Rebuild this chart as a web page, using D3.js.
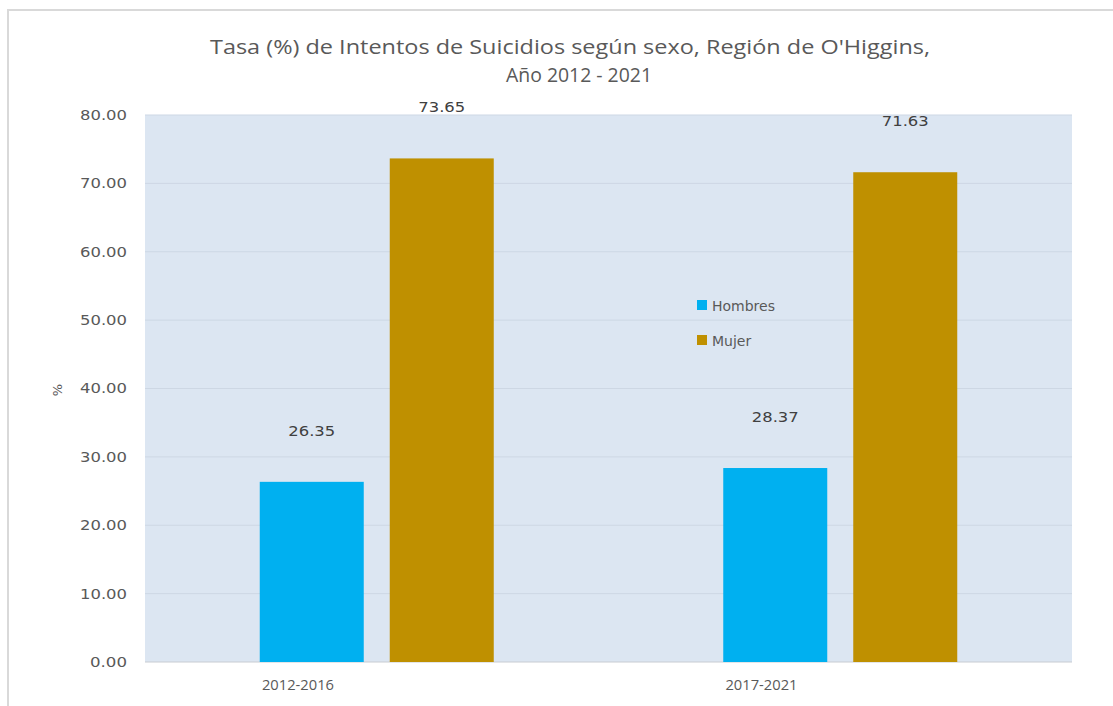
<!DOCTYPE html>
<html>
<head>
<meta charset="utf-8">
<script src="https://cdn.jsdelivr.net/npm/d3@7"></script>
<style>
  body { margin: 0; background: #fff; }
  text { fill: #595959; }
</style>
</head>
<body>
<script>
// chart data
const periods = ['2012-2016', '2017-2021'];
const seriesNames = ['Hombres', 'Mujer'];
const hombres = [26.35, 28.37];
const mujer = [73.65, 71.63];
const yTicks = [0, 10, 20, 30, 40, 50, 60, 70, 80];
const colors = ['#00b0f0', '#bf9000'];

const width = 1113, height = 706;
const plot = { left: 145, right: 1072, top: 115, bottom: 662 };

const svg = d3.select('body').append('svg')
  .attr('width', width)
  .attr('height', height);

// outer frame (only top and left edge are visible in the picture)
svg.append('path')
  .attr('d', `M8,${height} V10 H${width}`)
  .attr('fill', 'none')
  .attr('stroke', '#d9d9d9')
  .attr('stroke-width', 2);

// title
const title = svg.append('text')
  .attr('text-anchor', 'middle')
  .style('font-family', 'Open Sans')
  .style('font-size', '20px');
title.append('tspan').attr('x', 570).attr('y', 54)
  .attr('textLength', 720).attr('lengthAdjust', 'spacingAndGlyphs')
  .text("Tasa (%) de Intentos de Suicidios según sexo, Región de O'Higgins,");
title.append('tspan').attr('x', 579).attr('y', 82)
  .attr('textLength', 146).attr('lengthAdjust', 'spacingAndGlyphs')
  .text('Año 2012 - 2021');

// scales
const x = d3.scaleBand().domain(periods).range([plot.left, plot.right]);
const y = d3.scaleLinear().domain([0, 80]).range([plot.bottom, plot.top]);

// plot background
svg.append('rect')
  .attr('x', plot.left).attr('y', plot.top)
  .attr('width', plot.right - plot.left)
  .attr('height', plot.bottom - plot.top)
  .attr('fill', '#dce6f2');

// gridlines
svg.append('g').selectAll('line').data(yTicks).enter().append('line')
  .attr('x1', plot.left).attr('x2', plot.right)
  .attr('y1', d => y(d)).attr('y2', d => y(d))
  .attr('stroke', d => d === 0 ? '#c8ccd2' : '#cdd7e4')
  .attr('stroke-width', 1);

// y axis
const yAxis = d3.axisLeft(y).tickValues(yTicks).tickFormat(d3.format('.2f')).tickSize(0).tickPadding(18);
const gy = svg.append('g').attr('transform', `translate(${plot.left},0)`).call(yAxis);
gy.select('.domain').remove();
gy.selectAll('text')
  .style('font-family', 'DejaVu Sans')
  .style('font-size', '14px')
  .attr('textLength', d => d === 0 ? 37 : 47)
  .attr('lengthAdjust', 'spacingAndGlyphs')
  .attr('fill', '#595959');

svg.append('text')
  .attr('transform', 'translate(62,390) rotate(-90)')
  .attr('text-anchor', 'middle')
  .style('font-family', 'DejaVu Sans')
  .style('font-size', '13px')
  .text('%');

// x axis labels
const xAxis = d3.axisBottom(x).tickSize(0).tickPadding(17);
const gx = svg.append('g').attr('transform', `translate(0,${plot.bottom})`).call(xAxis);
gx.select('.domain').remove();
gx.selectAll('.tick').attr('transform', d => `translate(${x(d) + x.bandwidth() * 0.33},0)`);
gx.selectAll('text')
  .style('font-family', 'Open Sans')
  .style('font-size', '15px')
  .attr('textLength', 72)
  .attr('lengthAdjust', 'spacingAndGlyphs')
  .attr('fill', '#595959');

// bars
const barW = 104, gap = 26;
const series = [hombres, mujer];
const offsetX = i => x.bandwidth() / 2 - barW - gap / 2 + i * (barW + gap);

series.forEach((vals, si) => {
  const g = svg.append('g');
  g.selectAll('rect').data(vals).enter().append('rect')
    .attr('x', (d, i) => x(periods[i]) + offsetX(si))
    .attr('y', d => y(d))
    .attr('width', barW)
    .attr('height', d => y(0) - y(d))
    .attr('fill', colors[si]);
  g.selectAll('text').data(vals).enter().append('text')
    .attr('x', (d, i) => x(periods[i]) + offsetX(si) + barW / 2)
    .attr('y', d => y(d) - 46)
    .attr('text-anchor', 'middle')
    .style('font-family', 'DejaVu Sans')
    .style('font-size', '14px')
    .attr('textLength', 47)
    .attr('lengthAdjust', 'spacingAndGlyphs')
    .style('fill', '#404040')
    .text(d => d3.format('.2f')(d));
});

// legend
const legend = svg.append('g').attr('transform', 'translate(697,300)');
seriesNames.forEach((name, i) => {
  const row = legend.append('g').attr('transform', `translate(0,${i * 35})`);
  row.append('rect').attr('width', 10).attr('height', 10).attr('fill', colors[i]);
  row.append('text')
    .attr('x', 15).attr('y', 11)
    .style('font-family', 'DejaVu Sans')
    .style('font-size', '14px')
    .attr('fill', '#595959')
    .text(name);
});
</script>
</body>
</html>
